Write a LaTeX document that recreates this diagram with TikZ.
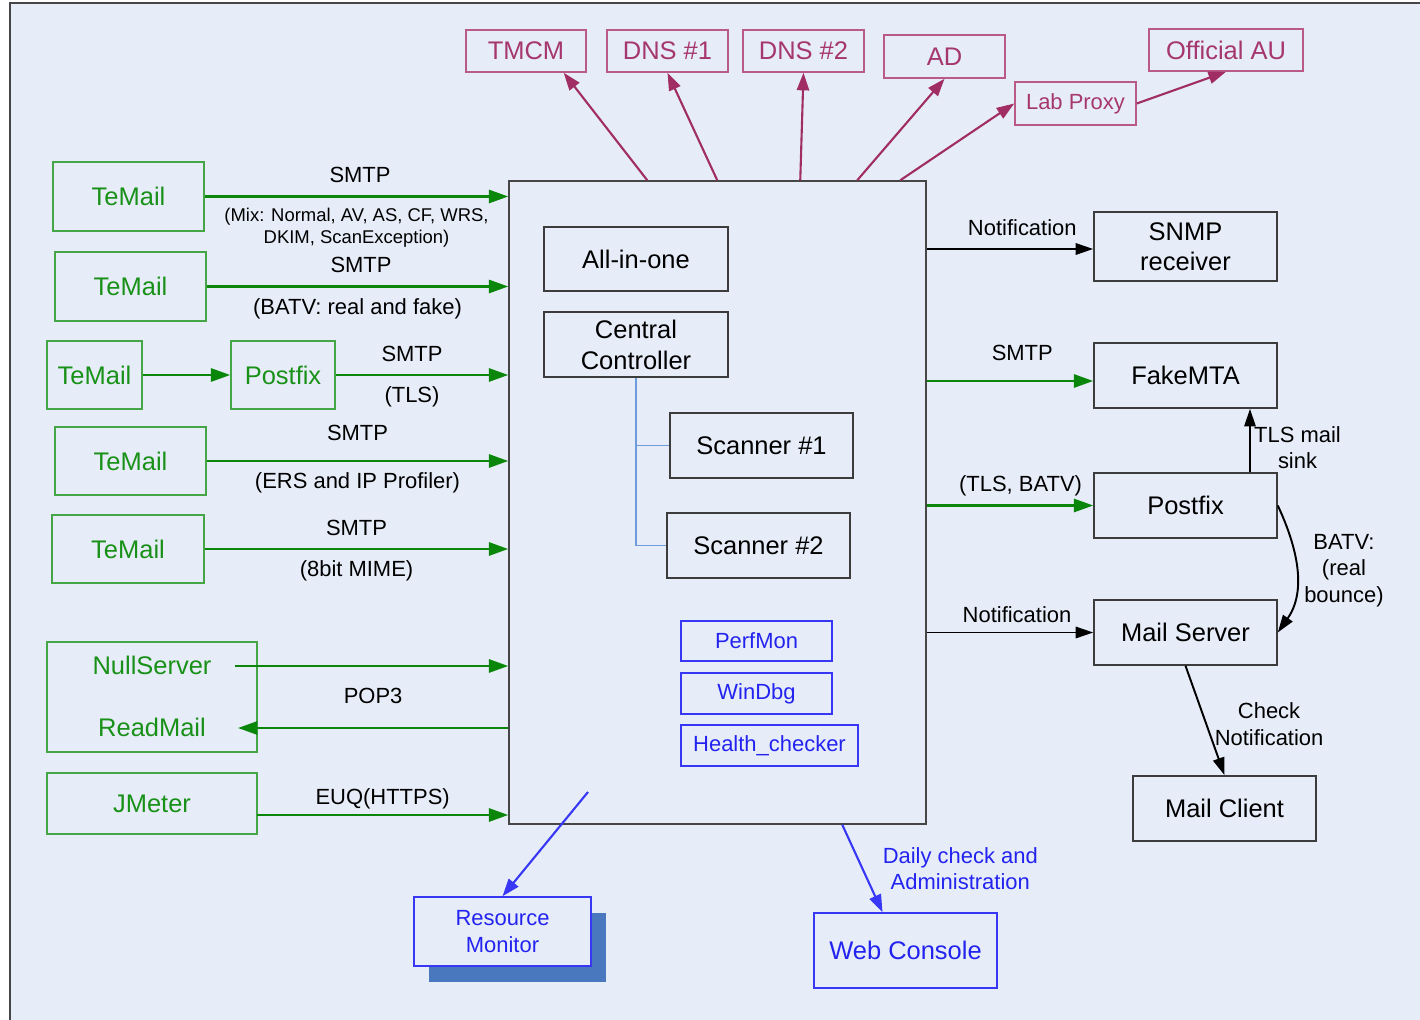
\documentclass[tikz,border=0pt]{standalone}
\usepackage{fontspec}
\setmainfont{Liberation Sans}
\usepackage{tikz}
\usetikzlibrary{calc}
\usetikzlibrary{arrows.meta}
\usetikzlibrary{shadows}
\definecolor{bgblue}{RGB}{231,237,248}
\definecolor{framegray}{RGB}{70,70,70}
\definecolor{boxgray}{RGB}{60,60,60}
\definecolor{gline}{RGB}{70,165,70}
\definecolor{gtext}{RGB}{25,145,25}
\definecolor{garrowc}{RGB}{10,135,10}
\definecolor{pline}{RGB}{185,90,135}
\definecolor{ptext}{RGB}{165,55,110}
\definecolor{parrowc}{RGB}{160,45,100}
\definecolor{bline}{RGB}{55,55,245}
\definecolor{btext}{RGB}{35,35,240}
\definecolor{treeblue}{RGB}{110,155,220}
\definecolor{shadowblue}{RGB}{74,120,190}
\newcommand{\fsbig}{\fontsize{14.5}{17.5}\selectfont}
\newcommand{\fslbl}{\fontsize{12.5}{15}\selectfont}
\newcommand{\fstiny}{\fontsize{10.5}{12.5}\selectfont}
\tikzset{
  box/.style = {rectangle, draw=boxgray, line width=0.9pt, fill=bgblue, align=center,
    inner sep=2pt, font=\fsbig},
  gbox/.style = {box, draw=gline, text=gtext},% machines de test
  pbox/.style = {box, draw=pline, text=ptext, font=\fsbig},
  bbox/.style = {box, draw=bline, text=btext, font=\fslbl},
  lbl/.style = {font=\fslbl, text=black, align=center, inner sep=3pt},
  lblup/.style = {lbl, above=4pt},
  lbldn/.style = {lbl, below=3pt},
  garrow/.style = {draw=garrowc, line width=1.3pt, -{Triangle[length=11pt,width=7.5pt]}},
  karrow/.style = {draw=black, line width=1.1pt, -{Triangle[length=10pt,width=6.5pt]}},
  parrow/.style = {draw=parrowc, line width=1.2pt, -{Triangle[length=10pt,width=7pt]}},
  barrow/.style = {draw=bline, line width=1.2pt, -{Triangle[length=10pt,width=7pt]}},
  tree/.style = {draw=treeblue, line width=0.9pt},
}
\begin{document}
\begin{tikzpicture}[x=0.02cm,y=-0.02cm]
  \useasboundingbox (0,0) rectangle (1420,1020);
  \fill[white] (0,0) rectangle (1420,1020);
  \fill[bgblue] (10,3) rectangle (1420,1020);
  \draw[framegray, line width=1pt] (10,1020) -- (10,3) -- (1420,3);

  % le serveur
  \node[box, draw=framegray, minimum width=8.34cm, minimum height=12.86cm] (core) at (717.5,502.5) {};
  \node[box, minimum width=3.68cm, minimum height=1.28cm] (aio) at (636,259) {All-in-one};
  \node[box, minimum width=3.68cm, minimum height=1.3cm, text depth=0pt] (cc) at (636,344.5) {Central\\Controller};
  \node[box, minimum width=3.66cm, minimum height=1.3cm] (sc1) at (761.5,445.5) {Scanner \#1};
  \node[box, minimum width=3.66cm, minimum height=1.3cm] (sc2) at (758.5,545.5) {Scanner \#2};
  \node[bbox, minimum width=3.02cm, minimum height=0.8cm] (perf) at (756.5,641) {PerfMon};
  \node[bbox, minimum width=3.02cm, minimum height=0.82cm] (wdbg) at (756.5,693.5) {WinDbg};
  \node[bbox, minimum width=3.54cm, minimum height=0.82cm] (hc) at (769.5,745.5) {Health\_checker};
  \draw[tree] (cc.south) |- (sc1.west);
  \draw[tree] (cc.south) |- (sc2.west);

  % clients
  \node[gbox, minimum width=3.02cm, minimum height=1.38cm] (tm1) at (128.5,196.5) {TeMail};
  \node[gbox, minimum width=3.02cm, minimum height=1.38cm] (tm2) at (130.5,286.5) {TeMail};
  \node[gbox, minimum width=1.9cm, minimum height=1.36cm] (tm3) at (94.5,375) {TeMail};
  \node[gbox, minimum width=2.08cm, minimum height=1.36cm] (pfg) at (283,375) {Postfix};
  \node[gbox, minimum width=3.02cm, minimum height=1.36cm] (tm4) at (130.5,461) {TeMail};
  \node[gbox, minimum width=3.04cm, minimum height=1.36cm] (tm5) at (128,549) {TeMail};
  \node[gbox, minimum width=4.2cm, minimum height=2.2cm] (nrbox) at (152,697) {};
  \node[text=gtext, font=\fsbig] (ns) at (152,665) {NullServer};
  \node[text=gtext, font=\fsbig] (rm) at (152,727) {ReadMail};
  \node[gbox, minimum width=4.2cm, minimum height=1.22cm] (jm) at (152,803.5) {JMeter};
  \coordinate (nsout) at (235,666);
  \coordinate (rmin) at (238,728);
  \coordinate (jmout) at (257,815);

  \path[garrow] (tm1.east) -- node[lblup, xshift=2pt] {SMTP}
    node[lbl, below=5pt, font=\fstiny, inner sep=1pt] {(Mix: Normal, AV, AS, CF, WRS,\\DKIM, ScanException)} (tm1.east -| core.west);
  \path[garrow] (tm2.east) -- node[lblup, xshift=2pt] {SMTP} node[lbldn] {(BATV: real and fake)} (tm2.east -| core.west);
  \path[garrow] (tm3.east) -- (pfg.west);
  \path[garrow] (pfg.east) -- node[lblup, xshift=-5.7pt] {SMTP} node[lbldn, xshift=-5.7pt] {(TLS)} (pfg.east -| core.west);
  \path[garrow] (tm4.east) -- node[lblup, yshift=4pt] {SMTP} node[lbldn] {(ERS and IP Profiler)} (tm4.east -| core.west);
  \path[garrow] (tm5.east) -- node[lblup] {SMTP} node[lbldn] {(8bit MIME)} (tm5.east -| core.west);
  \path[garrow] (nsout) -- (nsout -| core.west);
  \path[garrow] (rmin -| core.west) -- node[lbl, above=10pt] {POP3} (rmin);
  \path[garrow] (jmout) -- node[lbl, above] {EUQ(HTTPS)} (jmout -| core.west);

  % services externes
  \node[pbox, minimum width=2.4cm, minimum height=0.84cm] (tmcm) at (526,51) {TMCM};
  \node[pbox, minimum width=2.42cm, minimum height=0.84cm] (dns1) at (667.5,51) {DNS \#1};
  \node[pbox, minimum width=2.42cm, minimum height=0.84cm] (dns2) at (803.5,51) {DNS \#2};
  \node[pbox, minimum width=2.42cm, minimum height=0.86cm] (ad) at (944.5,56.5) {AD};
  \node[pbox, minimum width=2.42cm, minimum height=0.86cm, font=\fslbl] (lp) at (1075.5,103.5) {Lab Proxy};
  \node[pbox, minimum width=3.08cm, minimum height=0.84cm] (au) at (1226,50) {Official AU};
  \path[parrow] ($(core.north west)+(139,0)$) -- (tmcm.-30);
  \path[parrow] ($(core.north west)+(209,0)$) -- (dns1.south);
  \path[parrow] ($(core.north west)+(292,0)$) -- (dns2.south);
  \path[parrow] ($(core.north west)+(349,0)$) -- (ad.south);
  \path[parrow] ($(core.north west)+(392,0)$) -- (lp.west);
  \path[parrow] (lp.east) -- (au.south);

  % cote droit
  \node[box, minimum width=3.66cm, minimum height=1.38cm, text depth=0pt] (snmp) at (1185.5,246.5) {SNMP\\receiver};
  \node[box, minimum width=3.66cm, minimum height=1.3cm] (fmta) at (1185.5,375.5) {FakeMTA};
  \node[box, minimum width=3.66cm, minimum height=1.3cm] (pfb) at (1185.5,505.5) {Postfix};
  \node[box, minimum width=3.66cm, minimum height=1.3cm] (ms) at (1185.5,632.5) {Mail Server};
  \node[box, minimum width=3.66cm, minimum height=1.3cm] (mc) at (1224.5,808.5) {Mail Client};
  \coordinate (snmpin) at ([yshift=-0.05cm]snmp.west);
  \coordinate (fmtain) at ([yshift=-0.11cm]fmta.west);
  \path[karrow] (core.east |- snmpin) -- node[lblup, xshift=7pt] {Notification} (snmpin);
  \path[garrow] (core.east |- fmtain) -- node[lblup, xshift=7pt, yshift=4pt] {SMTP} (fmtain);
  \path[garrow] (core.east |- pfb.west) -- node[lbl, above=1.5pt, xshift=6pt] {(TLS, BATV)} (pfb.west);
  \path[karrow] (core.east |- ms.west) -- node[lbl, above=2pt, xshift=4pt] {Notification} (ms.west);
  \path[karrow, line width=0.8pt] ([xshift=1.29cm]pfb.north) -- node[lbl, right=-1pt, yshift=-4pt] {TLS mail\\sink} ([xshift=1.29cm]fmta.south);
  \path[karrow] (pfb.east) to[out=-65, in=55] node[lbl, right=1pt] {BATV:\\(real\\bounce)} (ms.east);
  \path[karrow] (ms.south) -- node[lbl, right, xshift=2pt, yshift=-2pt] {Check\\Notification} (mc.north);

  % outils
  \node[bbox, minimum width=3.54cm, minimum height=1.38cm,
    drop shadow={shadow xshift=0.3cm, shadow yshift=-0.32cm, fill=shadowblue, opacity=1}] (rmon) at (502.5,931.5) {Resource\\Monitor};
  \node[bbox, font=\fsbig, minimum width=3.66cm, minimum height=1.5cm] (wc) at (905.5,950.5) {Web Console};
  \coordinate (rmout) at (588,792);
  \path[barrow] (rmout) -- (rmon.north);
  \path[barrow] ($(core.south west)+(334,0)$) -- node[lbl, text=btext, right=8pt] {Daily check and\\Administration} (wc.121);
\end{tikzpicture}
\end{document}
